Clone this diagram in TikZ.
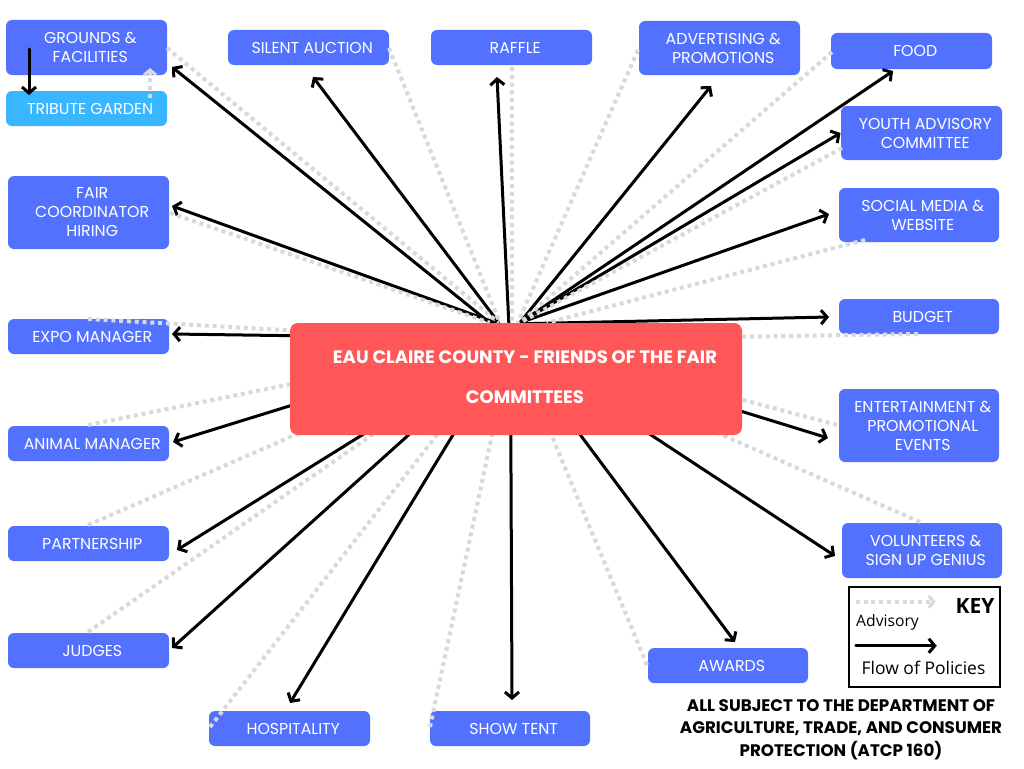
\documentclass[tikz,border=0pt]{standalone}
\usepackage{fontspec}
\setmainfont{Poppins}
\newfontfamily\keyfont{Open Sans}
\usetikzlibrary{arrows.meta,calc}
\definecolor{boxblue}{HTML}{5271FF}
\definecolor{lightblue}{HTML}{38B6FF}
\definecolor{ctrred}{HTML}{FF5757}
\definecolor{dotgray}{HTML}{D9D9D9}
\pgfdeclarelayer{front}
\pgfsetlayers{main,front}
\newcommand\pushr{\hspace*{7.5pt}}
\begin{document}
\begin{tikzpicture}[x=1pt,y=-1pt,
  box/.style={rounded corners=6pt, fill=boxblue, text=white, minimum width=161pt,
    minimum height=35pt, inner sep=0pt, align=center, font=\fontsize{15.8}{19}\selectfont},
  flow/.style={line width=3pt, line cap=round, line join=round,
    -{Straight Barb[length=6pt,width=14pt,line width=3pt]}},
  adv/.style={dotgray, line width=4pt, dash pattern=on 4pt off 3.8pt},
  advtip/.style={-{Straight Barb[length=5pt,width=12pt,line width=3pt]}}
]
\useasboundingbox (0,0) rectangle (1024,768);
\fill[white] (0,0) rectangle (1024,768);

% centre box on front layer
\begin{pgfonlayer}{front}
\node[rounded corners=8pt, fill=ctrred, minimum width=452pt, minimum height=112pt, inner sep=0pt] (ctr) at (516,379) {};
\node[text=white, align=center, font=\bfseries\fontsize{18}{40}\selectfont] (ctrtext) at (525,377.5) {EAU CLAIRE COUNTY - FRIENDS OF THE FAIR\\COMMITTEES};
\end{pgfonlayer}

% committee boxes
\node[box, minimum height=55pt] (grounds) at (86.5,47.5) {\pushr GROUNDS \&\\\pushr FACILITIES};
\node[box, fill=lightblue] (tribute) at (86.5,108.5) {\pushr TRIBUTE GARDEN};
\node[box] (silent) at (308.5,47.5) {\pushr SILENT AUCTION};
\node[box] (raffle) at (511.5,47.5) {\pushr RAFFLE};
\node[box, minimum height=54pt] (advert) at (719.5,48) {\pushr ADVERTISING \&\\\pushr PROMOTIONS};
\node[box, minimum height=36pt] (food) at (911.5,51) {\pushr FOOD};
\node[box, minimum height=54pt] (youth) at (921.5,133) {\pushr YOUTH ADVISORY\\\pushr COMMITTEE};
\node[box, minimum height=73pt] (fair) at (88.5,212.5) {\pushr FAIR\\\pushr COORDINATOR\\\pushr HIRING};
\node[box, minimum width=160pt, minimum height=54pt] (social) at (919,215) {\pushr SOCIAL MEDIA \&\\\pushr WEBSITE};
\node[box] (expo) at (88.5,336.5) {\pushr EXPO MANAGER};
\node[box, minimum width=160pt] (budget) at (919,316.5) {\pushr BUDGET};
\node[box] (animal) at (88.5,443.5) {\pushr ANIMAL MANAGER};
\node[box, minimum width=160pt, minimum height=73pt] (ent) at (919,425.5) {\pushr ENTERTAINMENT \&\\\pushr PROMOTIONAL\\\pushr EVENTS};
\node[box] (partner) at (88.5,543.5) {\pushr PARTNERSHIP};
\node[box, minimum width=160pt, minimum height=55pt] (vol) at (922,550.5) {\pushr VOLUNTEERS \&\\\pushr SIGN UP GENIUS};
\node[box] (judges) at (88.5,650.5) {\pushr JUDGES};
\node[box, minimum width=160pt] (awards) at (728,665.5) {\pushr AWARDS};
\node[box] (hosp) at (289.5,728.5) {\pushr HOSPITALITY};
\node[box, minimum width=160pt] (show) at (510,728.5) {\pushr SHOW TENT};

% flow of policies (solid arrows)
\draw[flow] ($(ctr.north west)+(200,0)$) -- ($(grounds)+(85.5,19.5)$);
\draw[flow] ($(ctr.north west)+(209,0)$) -- ($(silent)+(4.5,29.5)$);
\draw[flow] ($(ctr.north west)+(206,0)$) -- ($(fair)+(83.5,-6.5)$);
\draw[flow] ($(ctr.north west)+(219,0)$) -- ($(raffle)+(-14.5,29.5)$);
\draw[flow] ($(ctr.north west)+(230,0)$) -- ($(advert)+(-8.5,38)$);
\draw[flow] ($(ctr.north west)+(230,0)$) -- ($(food)+(-18.5,20)$);
\draw[flow] ($(ctr.north west)+(230,0)$) -- ($(youth)+(-81,0)$);
\draw[flow] ($(ctr.north west)+(230,0)$) -- ($(social)+(-90,-1)$);
\draw[flow] ($(ctr.north west)+(230,1)$) -- ($(budget)+(-90,0.5)$);
\draw[flow] ($(ctr.north west)+(10,13)$) -- ($(expo)+(83.5,-2.5)$);
\draw[flow] ($(ctr.north west)+(10,80)$) -- ($(animal)+(84.5,-1.5)$);
\draw[flow] ($(ctr.south west)+(80,-5)$) -- ($(partner)+(88.5,6.5)$);
\draw[flow] ($(ctr.south west)+(124,-5)$) -- ($(judges)+(83.5,-2.5)$);
\draw[flow] ($(ctr.south west)+(166,-5)$) -- ($(hosp)+(0.5,-25.5)$);
\draw[flow] ($(ctr.south west)+(221,-5)$) -- ($(show)+(2,-28.5)$);
\draw[flow] ($(ctr.south west)+(287,-5)$) -- ($(awards)+(7,-23.5)$);
\draw[flow] ($(ctr.south west)+(354,-5)$) -- ($(vol)+(-87,5.5)$);
\draw[flow] ($(ctr.north east)+(-9,86)$) -- ($(ent)+(-91,12.5)$);
\draw[flow] ($(grounds)+(-57.5,1.5)$) -- ($(tribute)+(-57.5,-13.5)$);

% advisory (dotted)
\draw[adv] ($(grounds)+(80.5,0.5)$) -- ($(ctr.north west)+(209,0)$);
\draw[adv, advtip] ($(tribute)+(63.5,-10.5)$) -- ($(grounds)+(63.5,20.5)$);
\draw[adv] ($(silent)+(80.5,0.5)$) -- ($(ctr.north west)+(210,0)$);
\draw[adv] ($(raffle)+(0.5,19.5)$) -- ($(ctr.north west)+(222,0)$);
\draw[adv] ($(advert)+(-81.5,2)$) -- ($(ctr.north west)+(228,0)$);
\draw[adv] ($(food)+(-79.5,1)$) -- ($(ctr.north west)+(230,0)$);
\draw[adv] ($(youth)+(-79.5,15)$) -- ($(ctr.north west)+(230,0)$);
\draw[adv] ($(fair)+(81.5,0.5)$) -- ($(ctr.north west)+(200,0)$);
\draw[adv] ($(social)+(-54,25)$) -- ($(ctr.north west)+(257,0)$);
\draw[adv] ($(budget)+(-1,17.5)$) -- ($(ctr.north east)+(-7,14)$);
\draw[adv] ($(ent)+(-82,-0.5)$) -- ($(ctr.north east)+(-7,75)$);
\draw[adv] ($(vol)+(-2,-28.5)$) -- ($(ctr.south east)+(-24,-2)$);
\draw[adv] ($(expo)+(-0.5,-17.5)$) -- ($(ctr.north west)+(8,8)$);
\draw[adv] ($(animal)+(-0.5,-18.5)$) -- ($(ctr.north west)+(8,60)$);
\draw[adv] ($(partner)+(-0.5,-18.5)$) -- ($(ctr.south west)+(16,-5)$);
\draw[adv] ($(judges)+(-0.5,-18.5)$) -- ($(ctr.south west)+(86,-3)$);
\draw[adv] ($(hosp)+(-79.5,-1.5)$) -- ($(ctr.south west)+(150,-4)$);
\draw[adv] ($(show)+(-80,-1.5)$) -- ($(ctr.south west)+(203,-4)$);
\draw[adv] ($(awards)+(-81,-0.5)$) -- ($(ctr.south west)+(260,-4)$);

% key
\node[draw=black, line width=2.5pt, minimum width=151pt, minimum height=100pt, inner sep=0pt] (key) at (924.5,637) {};
\draw[adv, advtip] ($(key.north west)+(8,16)$) -- ($(key.north west)+(88,16)$);
\node[font=\keyfont\bfseries\fontsize{21}{22}\selectfont, inner sep=0pt] (keyt) at (975,606) {KEY};
\node[anchor=west, font=\keyfont\fontsize{15.7}{18}\selectfont, inner sep=0pt] (advt) at (856,622) {Advisory};
\draw[flow] ($(key.north west)+(8,60)$) -- ($(key.north west)+(89,60)$);
\node[font=\keyfont\fontsize{17.5}{20}\selectfont, inner sep=0pt] (flowt) at (923.5,668) {Flow of Policies};

% note
\node[font=\bfseries\fontsize{16.7}{22.5}\selectfont, align=center, inner sep=0pt] (note) at (841,729.5) {ALL SUBJECT TO THE DEPARTMENT OF\\AGRICULTURE, TRADE, AND CONSUMER\\PROTECTION (ATCP 160)};
\end{tikzpicture}
\end{document}
